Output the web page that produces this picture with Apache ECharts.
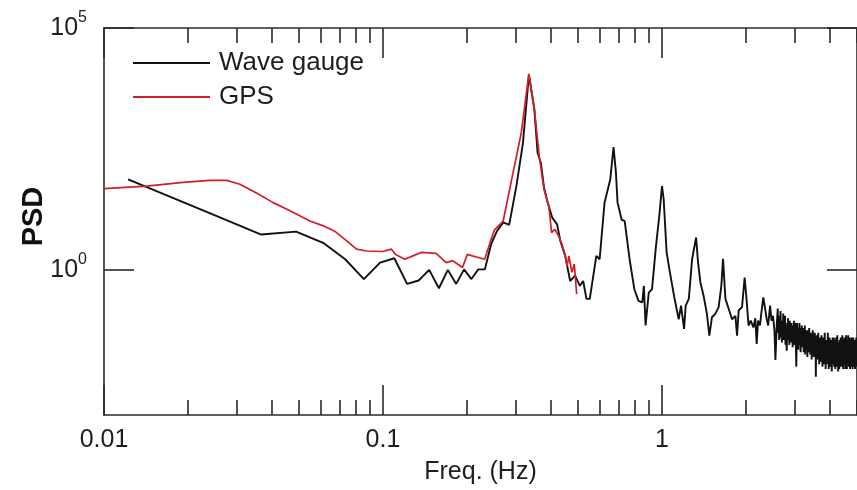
<!DOCTYPE html>
<html><head><meta charset="utf-8">
<script src="https://cdn.jsdelivr.net/npm/echarts@6/dist/echarts.min.js"></script>
<style>html,body{margin:0;padding:0;background:#fff}#c{width:857px;height:490px}</style>
</head><body><div id="c"></div>
<script>
// ---- tick values ----
const xMajorTicks = [0.01, 0.1, 1];
const xMinorTicks = [0.02,0.03,0.04,0.05,0.06,0.07,0.08,0.09,0.2,0.3,0.4,0.5,0.6,0.7,0.8,0.9,2,3,4,5];
const yTickValues = [1, 100000];

// ---- Wave gauge spectrum, low/mid frequencies: frequency (Hz) and log10(PSD) ----
const waveFreq = [
 0.0122,0.0244,0.0366,0.0488,0.061,0.0732,0.0854,0.0976,0.1098,0.122,0.1342,0.1464,0.1586,0.1708,0.183,0.1952,0.2074,0.2196,0.2318,
 0.2441,0.2560,0.2696,0.2833,0.3007,0.3174,0.3334,0.3489,0.3582,0.3680,0.3778,0.3881,0.4041,0.4207,0.4322,0.4500,0.4686,0.4878,0.5079,0.5218,0.5362,0.5510,
 0.5817,0.5977,0.6224,0.6525,0.6704,0.6838,0.6930,0.7166,0.7350,0.7654,0.7960,0.8237,0.8500,0.8610,0.8733,0.8966,0.9210,0.9516,0.9778,1.000,1.014,1.039,1.063,
 1.107,1.148,1.170,1.200,1.216,1.248,1.282,1.325,1.347,1.373,1.410,1.449,1.478,1.510,1.552,1.596,1.632,1.655,1.688,1.735,1.783,1.833,1.858,1.883,1.936,1.978,
 2.005,2.043,2.08,2.127,2.16,2.185,2.21,2.245,2.27,2.307,2.338,2.37,2.402,2.44,2.47,2.50,2.53,2.55,2.58
];
const waveLogPSD = [
 1.87,1.15,0.73,0.79,0.56,0.22,-0.19,0.15,0.24,-0.29,-0.22,0.0,-0.38,0.0,-0.29,0.01,-0.19,0.01,0.01,
 0.53,0.80,0.98,0.93,1.73,2.62,4.03,3.31,2.42,2.21,1.70,1.42,1.08,0.94,0.60,0.29,-0.23,-0.12,-0.33,-0.23,-0.60,-0.60,
 0.29,0.22,1.39,1.87,2.54,2.01,1.39,1.04,1.01,0.22,-0.40,-0.64,-0.67,-0.33,-1.15,-0.47,-0.40,0.49,1.11,1.73,1.46,0.36,0.01,
 -0.57,-1.02,-0.74,-1.22,-0.74,-0.60,0.22,0.67,0.15,-0.26,-0.54,-0.91,-1.36,-0.98,-0.91,-0.77,-0.33,0.23,-0.60,-0.81,-1.02,-0.95,-1.36,-0.84,-0.77,-0.16,
 -0.54,-1.15,-1.05,-1.19,-1.0,-1.53,-1.05,-1.15,-0.9,-0.57,-0.77,-1.0,-1.15,-0.74,-1.05,-0.95,-1.25,-1.86,-1.1
];

// ---- Wave gauge spectrum, noisy high-frequency tail ----
const waveTailFreq = [
 2.60,2.61,2.62,2.63,2.64,2.65,2.66,2.67,2.68,2.69,
 2.70,2.71,2.72,2.73,2.74,2.75,2.76,2.77,2.78,2.79,
 2.80,2.81,2.82,2.83,2.84,2.85,2.86,2.87,2.88,2.89,
 2.90,2.91,2.92,2.93,2.94,2.95,2.96,2.97,2.98,2.99,
 3.00,3.01,3.02,3.03,3.04,3.05,3.06,3.07,3.08,3.09,
 3.10,3.11,3.12,3.13,3.14,3.15,3.16,3.17,3.18,3.19,
 3.20,3.21,3.22,3.23,3.24,3.25,3.26,3.27,3.28,3.29,
 3.30,3.31,3.32,3.33,3.34,3.35,3.36,3.37,3.38,3.39,
 3.40,3.41,3.42,3.43,3.44,3.45,3.46,3.47,3.48,3.49,
 3.50,3.51,3.52,3.53,3.54,3.55,3.56,3.57,3.58,3.59,
 3.60,3.61,3.62,3.63,3.64,3.65,3.66,3.67,3.68,3.69,
 3.70,3.71,3.72,3.73,3.74,3.75,3.76,3.77,3.78,3.79,
 3.80,3.81,3.82,3.83,3.84,3.85,3.86,3.87,3.88,3.89,
 3.90,3.91,3.92,3.93,3.94,3.95,3.96,3.97,3.98,3.99,
 4.00,4.01,4.02,4.03,4.04,4.05,4.06,4.07,4.08,4.09,
 4.10,4.11,4.12,4.13,4.14,4.15,4.16,4.17,4.18,4.19,
 4.20,4.21,4.22,4.23,4.24,4.25,4.26,4.27,4.28,4.29,
 4.30,4.31,4.32,4.33,4.34,4.35,4.36,4.37,4.38,4.39,
 4.40,4.41,4.42,4.43,4.44,4.45,4.46,4.47,4.48,4.49,
 4.50,4.51,4.52,4.53,4.54,4.55,4.56,4.57,4.58,4.59,
 4.60,4.61,4.62,4.63,4.64,4.65,4.66,4.67,4.68,4.69,
 4.70,4.71,4.72,4.73,4.74,4.75,4.76,4.77,4.78,4.79,
 4.80,4.81,4.82,4.83,4.84,4.85,4.86,4.87,4.88,4.89,
 4.90,4.91,4.92,4.93,4.94,4.95,4.96,4.97,4.98,4.99,
 5.00
];
const waveTailLogPSD = [
 -0.80,-1.30,-0.95,-1.45,-1.00,-1.25,-0.85,-1.40,-1.10,-1.50,
 -1.05,-1.35,-0.90,-1.45,-1.15,-1.30,-0.95,-1.55,-1.20,-1.40,
 -1.67,-1.10,-1.45,-1.00,-1.35,-1.20,-1.55,-1.05,-1.40,-1.15,
 -1.50,-1.10,-1.45,-1.25,-1.60,-1.15,-1.40,-1.05,-1.55,-1.25,
 -1.45,-1.10,-1.60,-2.00,-1.30,-1.10,-1.50,-1.20,-1.65,-1.25,
 -1.45,-1.10,-1.55,-1.30,-1.70,-1.20,-1.50,-1.15,-1.60,-1.35,
 -1.55,-1.20,-1.70,-1.35,-1.50,-1.15,-1.75,-1.30,-1.55,-1.25,
 -1.65,-1.35,-1.80,-1.25,-1.55,-1.40,-1.70,-1.20,-1.60,-1.35,
 -1.75,-1.30,-1.55,-1.40,-1.85,-1.35,-1.60,-1.25,-1.70,-1.45,
 -1.80,-1.35,-1.65,-1.30,-1.75,-1.45,-2.21,-1.40,-1.70,-1.35,
 -1.85,-1.45,-1.65,-1.30,-1.80,-1.50,-1.95,-1.40,-1.70,-1.50,
 -1.90,-1.45,-1.75,-1.35,-1.85,-1.55,-2.00,-1.45,-1.70,-1.40,
 -1.95,-1.50,-1.75,-1.30,-1.85,-1.55,-2.05,-1.45,-1.80,-1.60,
 -1.95,-1.45,-1.80,-1.30,-1.90,-1.60,-2.05,-1.50,-1.75,-1.40,
 -2.00,-1.50,-1.80,-1.45,-1.95,-1.60,-2.10,-1.50,-1.85,-1.40,
 -1.95,-1.55,-1.85,-1.40,-2.00,-1.65,-1.90,-1.45,-2.05,-1.55,
 -1.85,-1.40,-2.00,-1.60,-1.80,-1.35,-1.95,-1.65,-2.10,-1.50,
 -1.90,-1.55,-2.05,-1.45,-1.80,-1.60,-2.00,-1.40,-1.85,-1.55,
 -2.00,-1.50,-1.90,-1.35,-1.85,-1.60,-2.05,-1.45,-1.90,-1.55,
 -1.95,-1.40,-1.85,-1.60,-2.05,-1.50,-1.80,-1.35,-1.95,-1.60,
 -2.05,-1.45,-1.85,-1.55,-1.95,-1.35,-1.90,-1.60,-2.00,-1.50,
 -1.85,-1.40,-2.05,-1.60,-1.90,-1.45,-1.80,-1.55,-2.00,-1.40,
 -1.90,-1.50,-2.05,-1.60,-1.85,-1.40,-1.95,-1.55,-2.00,-1.45,
 -1.85,-1.60,-2.05,-1.45,-1.90,-1.55,-2.00,-1.40,-1.85,-1.60,
 -1.95
];

// ---- GPS spectrum: frequency (Hz) and log10(PSD) ----
const gpsFreq = [
 0.0100,0.0142,0.0192,0.0240,0.0275,0.0307,0.0352,0.0404,0.0464,0.0547,0.0611,0.0671,0.0741,0.0804,0.0873,0.0999,0.107,0.111,0.1196,0.128,0.137,0.155,
 0.1685,0.1777,0.185,0.1927,0.2006,0.209,0.2180,0.2315,0.2441,0.2506,0.2696,0.2923,0.313,0.3334,0.3489,0.3631,0.3778,0.393,0.402,0.4128,0.4262,0.4377,0.450,0.457,0.464,0.475,0.485,0.4945
];
const gpsLogPSD = [
 1.68,1.73,1.81,1.85,1.85,1.77,1.59,1.39,1.22,1.01,0.91,0.80,0.60,0.43,0.39,0.38,0.43,0.32,0.22,0.29,0.36,0.34,
 0.15,0.19,0.12,0.05,0.32,0.29,0.26,0.22,0.63,0.82,1.01,2.0,2.83,4.05,3.31,2.35,1.66,1.32,0.77,0.84,0.70,0.53,0.29,0.08,0.29,-0.05,0.12,-0.5
];

const FONT = '"Liberation Sans", Arial, Helvetica, sans-serif';
const AX = '#2a2a2a';
const TXT = '#1e1e1e';
const toPairs = (fs, ls) => fs.map((f, i) => [f, Math.pow(10, ls[i])]);
const waveData = toPairs(waveFreq, waveLogPSD).concat(toPairs(waveTailFreq, waveTailLogPSD));
const gpsData = toPairs(gpsFreq, gpsLogPSD);

const chart = echarts.init(document.getElementById('c'), null, {renderer: 'canvas'});
const lineAx = {show: true, lineStyle: {color: AX, width: 1.6}};
const xBase = {type: 'log', min: 0.01, max: 5, logBase: 10, splitLine: {show: false}, minorTick: {show: false}};
const fmtNum = v => String(+(+v).toPrecision(3));

chart.setOption({
  animation: false,
  backgroundColor: '#fff',
  grid: {left: 104, top: 28, width: 754, height: 390, containLabel: false},
  legend: {
    data: ['Wave gauge', 'GPS'], orient: 'vertical', left: 133, top: 50, padding: 0,
    icon: 'rect', itemWidth: 77, itemHeight: 2, itemGap: 8,
    textStyle: {fontSize: 26, color: TXT, fontFamily: FONT, padding: [0, 0, 0, 4]}
  },
  xAxis: [
    Object.assign({}, xBase, {
      position: 'bottom', axisLine: lineAx,
      axisTick: {show: true, inside: true, length: 30, customValues: xMajorTicks, lineStyle: {color: AX, width: 1.6}},
      axisLabel: {show: true, customValues: xMajorTicks, formatter: fmtNum, fontSize: 25, color: TXT, fontFamily: FONT, margin: 13},
      name: 'Freq. (Hz)', nameLocation: 'middle', nameGap: 45, nameMoveOverlap: false,
      nameTextStyle: {fontSize: 25, color: TXT, fontFamily: FONT}
    }),
    Object.assign({}, xBase, {
      position: 'bottom', axisLine: {show: false},
      axisTick: {show: true, inside: true, length: 15, customValues: xMinorTicks, lineStyle: {color: AX, width: 1.6}},
      axisLabel: {show: false}
    }),
    Object.assign({}, xBase, {
      position: 'top', axisLine: lineAx,
      axisTick: {show: true, inside: true, length: 30, customValues: xMajorTicks, lineStyle: {color: AX, width: 1.6}},
      axisLabel: {show: false}
    }),
    Object.assign({}, xBase, {
      position: 'top', axisLine: {show: false},
      axisTick: {show: true, inside: true, length: 15, customValues: xMinorTicks, lineStyle: {color: AX, width: 1.6}},
      axisLabel: {show: false}
    })
  ],
  yAxis: [
    {
      type: 'log', logBase: 10, min: 0.001, max: 100000, position: 'left',
      splitLine: {show: false}, minorTick: {show: false}, axisLine: lineAx,
      axisTick: {show: true, inside: true, length: 30, customValues: yTickValues, lineStyle: {color: AX, width: 1.6}},
      axisLabel: {
        show: true, customValues: yTickValues, margin: 17,
        formatter: v => '{a|10}{s|' + Math.round(Math.log10(v)) + '}',
        rich: {
          a: {fontSize: 25, color: TXT, fontFamily: FONT, lineHeight: 36},
          s: {fontSize: 16, color: TXT, fontFamily: FONT, verticalAlign: 'top', lineHeight: 16}
        }
      },
      name: 'PSD', nameLocation: 'middle', nameGap: 56, nameRotate: 90, nameMoveOverlap: false,
      nameTextStyle: {fontSize: 29, fontWeight: 'bold', color: '#111', fontFamily: FONT, padding: [0, 0, 0, 10]}
    },
    {
      type: 'log', logBase: 10, min: 0.001, max: 100000, position: 'right',
      splitLine: {show: false}, minorTick: {show: false}, axisLine: lineAx,
      axisTick: {show: true, inside: true, length: 30, customValues: yTickValues, lineStyle: {color: AX, width: 1.6}},
      axisLabel: {show: false}
    }
  ],
  series: [
    {
      name: 'Wave gauge', type: 'line', xAxisIndex: 0, yAxisIndex: 0,
      data: waveData, symbol: 'none', clip: true,
      itemStyle: {color: '#111'}, lineStyle: {color: '#111', width: 1.9}
    },
    {
      name: 'GPS', type: 'line', xAxisIndex: 0, yAxisIndex: 0,
      data: gpsData, symbol: 'none', clip: true,
      itemStyle: {color: '#d02026'}, lineStyle: {color: '#d02026', width: 1.7}
    }
  ]
});
</script>
</body></html>
